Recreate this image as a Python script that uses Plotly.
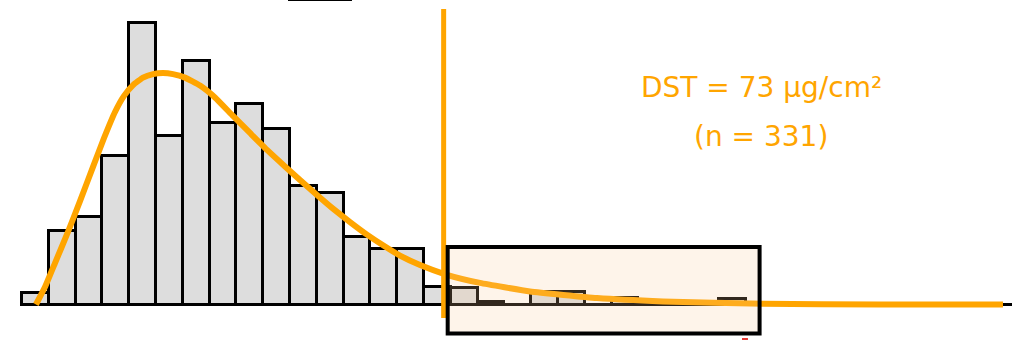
import plotly.graph_objects as go

# --- data -------------------------------------------------------------
BIN_WIDTH = 4.64          # µg/cm² per histogram bin
FIRST_EDGE = 0.0

# relative frequency (%) of each bin, left to right
FREQ = [0.54, 3.35, 3.95, 6.75, 12.78, 7.64, 11.06, 8.23, 9.08, 7.95,
        5.37, 5.06, 3.07, 2.50, 2.50, 0.81, 0.75, 0.13, 0.0, 0.58,
        0.58, 0.0, 0.28, 0.0, 0.0, 0.0, 0.25]

# fitted distribution curve
CURVE_X = [2.42, 3.98, 5.71, 7.96, 10.04, 12.29, 14.20, 16.10, 17.66,
           19.22, 20.95, 22.68, 24.41, 26.14, 28.22, 30.82, 33.41, 36.53,
           39.47, 42.42, 45.53, 48.13, 51.07, 53.84, 56.79, 59.73, 62.85,
           65.44, 68.91, 73.41, 79.29, 87.95, 99.55, 110.98, 128.29,
           148.55, 169.84]
CURVE_Y = [0.0, 0.79, 1.88, 3.29, 4.69, 6.24, 7.55, 8.73, 9.46, 9.95,
           10.29, 10.45, 10.50, 10.45, 10.29, 9.93, 9.39, 8.55, 7.78, 7.01,
           6.26, 5.65, 4.97, 4.35, 3.74, 3.17, 2.63, 2.22, 1.79, 1.36, 0.98,
           0.59, 0.29, 0.14, 0.03, 0.005, 0.0]

DST = 73                  # threshold, µg/cm²
N_SAMPLES = 331

# --- styling ----------------------------------------------------------
ORANGE = "#FFA500"
X_RANGE = [-3.81, 171.4]
Y_RANGE = [-1.61, 13.81]

centers = [FIRST_EDGE + (i + 0.5) * BIN_WIDTH for i in range(len(FREQ))]

fig = go.Figure()

fig.add_trace(go.Bar(
    x=centers, y=FREQ, width=BIN_WIDTH,
    marker=dict(color="#DDDDDD", line=dict(color="black", width=3)),
    hoverinfo="skip",
))

fig.add_trace(go.Scatter(
    x=CURVE_X, y=CURVE_Y, mode="lines",
    line=dict(color=ORANGE, width=6, shape="spline", smoothing=0.4),
    hoverinfo="skip",
))

# threshold marker
fig.add_trace(go.Scatter(
    x=[DST, DST], y=[-0.61, 13.4], mode="lines",
    line=dict(color=ORANGE, width=5),
    hoverinfo="skip",
))

shapes = [
    # baseline running under the whole distribution
    dict(type="line", xref="x", yref="y", x0=FIRST_EDGE, x1=X_RANGE[1],
         y0=0, y1=0, line=dict(color="black", width=3), layer="below"),
    # highlight box over the tail beyond the threshold
    dict(type="rect", xref="x", yref="y", x0=DST + 0.7, x1=127.7,
         y0=-1.32, y1=2.61, line=dict(color="black", width=4),
         fillcolor="rgba(250,200,150,0.2)", layer="above"),
    # short rule along the top edge
    dict(type="line", xref="paper", yref="paper", x0=0.2846, x1=0.3478,
         y0=1.0, y1=1.0, line=dict(color="black", width=2)),
    # small red tick at the bottom edge
    dict(type="rect", xref="paper", yref="paper", x0=0.7332, x1=0.7391,
         y0=0.0, y1=0.0059, line=dict(width=0), fillcolor="#E53935"),
]

annotations = [
    dict(x=128.0, y=9.85, xref="x", yref="y",
         text=f"DST = {DST} µg/cm²", showarrow=False,
         font=dict(family="DejaVu Sans", size=28, color=ORANGE),
         xanchor="center", yanchor="middle"),
    dict(x=128.0, y=7.6, xref="x", yref="y",
         text=f"(n = {N_SAMPLES})", showarrow=False,
         font=dict(family="DejaVu Sans", size=28, color=ORANGE),
         xanchor="center", yanchor="middle"),
]

fig.update_layout(
    width=1012, height=340,
    margin=dict(l=0, r=0, t=0, b=0),
    paper_bgcolor="white", plot_bgcolor="white",
    showlegend=False, bargap=0,
    xaxis=dict(visible=False, range=X_RANGE),
    yaxis=dict(visible=False, range=Y_RANGE),
    shapes=shapes, annotations=annotations,
)

fig.write_html("out.html")
